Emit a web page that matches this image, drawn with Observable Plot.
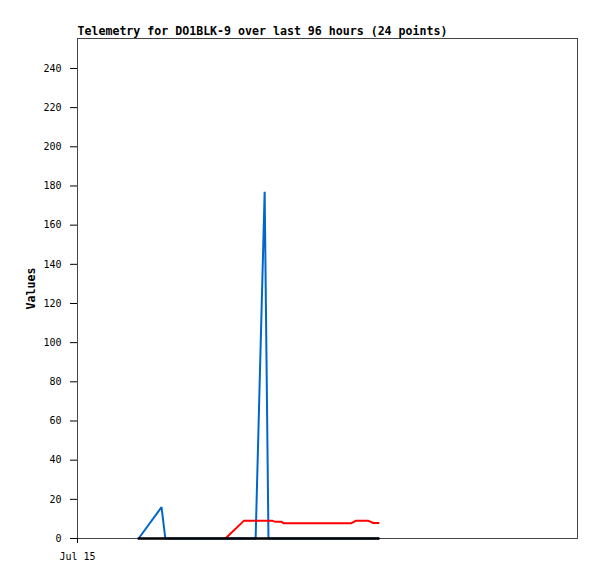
<!DOCTYPE html>
<html>
<head>
<meta charset="utf-8">
<script src="https://cdn.jsdelivr.net/npm/d3@7"></script>
<script src="https://cdn.jsdelivr.net/npm/@observablehq/plot@0.6"></script>
<style>
  html, body { margin: 0; padding: 0; background: #fff; }
  #chart svg { display: block; }
</style>
</head>
<body>
<div id="chart"></div>
<script>
const titleText = "Telemetry for DO1BLK-9 over last 96 hours (24 points)";
const yLabel = "Values";
const dayStart = "2024-07-15T00:00Z";
const dayEnd = "2024-07-16T00:00Z";
const xTickLabels = ["Jul 15"];
const yTicks = [0, 20, 40, 60, 80, 100, 120, 140, 160, 180, 200, 220, 240];
const yMax = 255.3;

const blueTimes = ["02:56", "04:02", "04:13", "08:33", "08:59", "09:10", "14:27"];
const blueValues = [0, 16, 0, 0, 177, 0, 0];

const redTimes = ["07:06", "07:59", "09:22", "09:30", "09:48", "09:53", "13:09", "13:21", "13:58", "14:12", "14:27"];
const redValues = [0, 9, 9, 8.5, 8.5, 7.8, 7.8, 9, 9, 7.9, 7.9];

const blackTimes = ["02:56", "14:27"];
const blackValues = [0, 0];

const toDate = (t) => new Date(`2024-07-15T${t}:00Z`);
const series = (times, values, name) => times.map((t, i) => ({time: toDate(t), value: values[i], name}));

const blue = series(blueTimes, blueValues, "blue");
const red = series(redTimes, redValues, "red");
const black = series(blackTimes, blackValues, "black");

const chart = Plot.plot({
  width: 597,
  height: 579,
  marginLeft: 77,
  marginRight: 20,
  marginTop: 38,
  marginBottom: 41,
  style: {fontFamily: "'DejaVu Sans Mono', monospace", fontSize: "10px", color: "#000", background: "#fff"},
  x: {type: "utc", domain: [new Date(dayStart), new Date(dayEnd)]},
  y: {domain: [0, yMax]},
  marks: [
    Plot.frame({stroke: "#444", strokeWidth: 1}),
    Plot.axisY({ticks: yTicks, tickSize: 7, tickPadding: 9, label: null, strokeWidth: 1, stroke: "#000"}),
    Plot.axisX({ticks: [new Date(dayStart)], tickFormat: (d, i) => xTickLabels[i], tickSize: 5, tickPadding: 9, label: null, stroke: "#000"}),
    Plot.line(blue, {x: "time", y: "value", stroke: "#0066cc", strokeWidth: 2, strokeLinejoin: "miter"}),
    Plot.line(red, {x: "time", y: "value", stroke: "#ff0000", strokeWidth: 2}),
    Plot.line(black, {x: "time", y: "value", stroke: "#000000", strokeWidth: 2.5}),
    Plot.text([titleText], {frameAnchor: "top-left", textAnchor: "start", lineAnchor: "bottom", dy: -4, fontWeight: "bold", fontSize: 11.6}),
    Plot.text([yLabel], {frameAnchor: "left", textAnchor: "middle", dx: -46, rotate: -90, fontWeight: "bold", fontSize: 11.6})
  ]
});
document.getElementById("chart").appendChild(chart);
</script>
</body>
</html>
